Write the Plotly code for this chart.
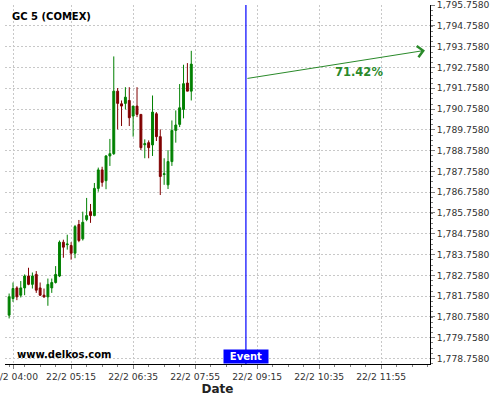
import plotly.graph_objects as go
import pandas as pd

# 5-minute candles, 22/2 03:55 .. 07:50
times = pd.date_range("2021-02-22 03:55", periods=48, freq="5min")
opens = [1780.84, 1781.64, 1782.15, 1781.80, 1782.15, 1782.72, 1782.32, 1782.80,
         1782.15, 1781.80, 1781.72, 1782.15, 1782.41, 1782.72, 1784.35, 1784.23,
         1784.19, 1783.82, 1785.20, 1784.51, 1785.44, 1785.82, 1785.63, 1786.94,
         1787.83, 1787.31, 1788.50, 1788.61, 1791.62, 1791.01, 1791.03, 1791.17,
         1790.42, 1790.90, 1790.50, 1789.04, 1789.14, 1789.03, 1790.53, 1789.43,
         1787.61, 1787.11, 1788.23, 1789.73, 1790.02, 1790.74, 1792.01, 1791.62]
highs = [1781.88, 1782.41, 1782.23, 1782.48, 1782.80, 1783.12, 1782.89, 1782.96,
         1782.41, 1782.12, 1782.60, 1782.60, 1783.20, 1784.43, 1784.47, 1784.71,
         1784.35, 1785.18, 1785.42, 1785.82, 1786.48, 1786.19, 1787.20, 1787.94,
         1787.98, 1788.54, 1789.32, 1793.29, 1791.77, 1791.17, 1791.81, 1791.81,
         1790.90, 1791.81, 1790.50, 1789.30, 1789.25, 1791.41, 1790.61, 1789.78,
         1788.39, 1788.78, 1790.21, 1790.69, 1791.96, 1792.89, 1792.97, 1793.56]
lows = [1780.68, 1781.48, 1781.56, 1781.69, 1781.80, 1782.28, 1782.12, 1781.91,
        1781.76, 1781.67, 1781.29, 1781.91, 1782.36, 1782.67, 1783.60, 1783.99,
        1783.51, 1783.58, 1784.35, 1784.43, 1785.36, 1785.28, 1785.60, 1786.78,
        1787.02, 1786.90, 1788.02, 1788.55, 1789.78, 1789.94, 1790.74, 1789.94,
        1789.43, 1790.37, 1788.78, 1788.39, 1788.39, 1788.50, 1789.22, 1786.62,
        1787.11, 1786.91, 1788.02, 1789.14, 1789.89, 1790.31, 1791.62, 1791.17]
closes = [1781.72, 1782.12, 1781.72, 1782.15, 1782.72, 1782.32, 1782.72, 1782.04,
          1781.80, 1781.72, 1782.32, 1782.41, 1782.80, 1784.35, 1784.11, 1784.26,
          1783.82, 1785.10, 1784.43, 1785.31, 1785.63, 1785.63, 1786.94, 1787.83,
          1787.23, 1788.50, 1788.61, 1791.62, 1791.03, 1790.90, 1791.33, 1790.34,
          1790.90, 1790.50, 1788.90, 1789.09, 1788.90, 1790.61, 1789.43, 1787.51,
          1787.64, 1788.23, 1789.73, 1789.99, 1790.82, 1791.98, 1791.62, 1792.92]

x_tick_vals = ["2021-02-22 04:00", "2021-02-22 05:15", "2021-02-22 06:35",
               "2021-02-22 07:55", "2021-02-22 09:15", "2021-02-22 10:35",
               "2021-02-22 11:55"]
x_tick_text = ["22/2 04:00", "22/2 05:15", "22/2 06:35", "22/2 07:55",
               "22/2 09:15", "22/2 10:35", "22/2 11:55"]
y_tick_vals = [1778.758, 1779.758, 1780.758, 1781.758, 1782.758, 1783.758,
               1784.758, 1785.758, 1786.758, 1787.758, 1788.758, 1789.758,
               1790.758, 1791.758, 1792.758, 1793.758, 1794.758, 1795.758]
y_tick_text = ["1,778.7580", "1,779.7580", "1,780.7580", "1,781.7580", "1,782.7580",
               "1,783.7580", "1,784.7580", "1,785.7580", "1,786.7580", "1,787.7580",
               "1,788.7580", "1,789.7580", "1,790.7580", "1,791.7580", "1,792.7580",
               "1,793.7580", "1,794.7580", "1,795.7580"]

event_time = "2021-02-22 09:00:30"
arrow_start = 1792.22
arrow_end_time = "2021-02-22 12:51:30"
arrow_end = 1793.58
prob_text = "71.42%"
prob_time = "2021-02-22 11:26:30"
prob_price = 1792.52

x_range = ["2021-02-22 03:49:40", "2021-02-22 12:58:00"]
y_range = [1778.488, 1795.765]

FONT = "DejaVu Sans"
GREEN = "#008000"
RED = "#800000"
ARROW = "#2a8a2a"
GRID = "#c8c8c8"
BLUE = "#0000ff"

fig = go.Figure()
fig.add_trace(go.Candlestick(
    x=times, open=opens, high=highs, low=lows, close=closes,
    increasing=dict(line=dict(color=GREEN, width=1), fillcolor=GREEN),
    decreasing=dict(line=dict(color=RED, width=1), fillcolor=RED),
    whiskerwidth=0, showlegend=False, hoverinfo="skip",
))

fig.add_shape(type="line", xref="x", yref="paper", x0=event_time, x1=event_time,
              y0=0, y1=1, layer="above", line=dict(color=BLUE, width=1.2))

fig.add_annotation(x=arrow_end_time, y=arrow_end, ax=event_time, ay=arrow_start,
                   xref="x", yref="y", axref="x", ayref="y", text="",
                   showarrow=True, arrowhead=4, arrowsize=2.2, arrowwidth=1,
                   arrowcolor=ARROW, standoff=0, startstandoff=0)
fig.add_annotation(x=prob_time, y=prob_price, xref="x", yref="y", text=prob_text,
                   showarrow=False, font=dict(family=FONT, size=11.5, color=ARROW, weight="bold"))

fig.add_annotation(x=event_time, y=0, xref="x", yref="paper", text="Event",
                   showarrow=False, yanchor="bottom", xanchor="center",
                   bgcolor=BLUE, width=44, height=13, borderpad=0,
                   font=dict(family=FONT, size=10, color="white", weight="bold"))

fig.add_annotation(x=0.0118, y=0.967, xref="paper", yref="paper", text="GC 5 (COMEX)",
                   showarrow=False, xanchor="left", yanchor="middle",
                   font=dict(family=FONT, size=10, color="black", weight="bold"))
fig.add_annotation(x=0.0235, y=0.0278, xref="paper", yref="paper", text="www.delkos.com",
                   showarrow=False, xanchor="left", yanchor="middle",
                   font=dict(family=FONT, size=10, color="black", weight="bold"))

fig.update_layout(
    width=500, height=400,
    margin=dict(l=5, r=70, t=5, b=36, autoexpand=False),
    paper_bgcolor="white", plot_bgcolor="white",
    font=dict(family=FONT, size=9.2, color="#333333"),
    boxgap=0.3,
    showlegend=False,
    xaxis=dict(
        type="date", range=x_range, rangeslider=dict(visible=False),
        tickvals=x_tick_vals, ticktext=x_tick_text, ticklabeloverflow="allow",
        automargin=False,
        showgrid=True, gridcolor=GRID, griddash="2px,2px", gridwidth=1,
        showline=True, linecolor="black", linewidth=1,
        ticks="outside", ticklen=4, tickcolor="#808080",
        minor=dict(ticks="outside", ticklen=2, tickcolor="#808080",
                   dtick=1200000, tick0="2021-02-22 05:15", showgrid=False),
        tickfont=dict(family=FONT, size=9.2, color="#333333"),
        title=dict(text="Date", font=dict(family=FONT, size=12, color="#222222", weight="bold"),
                   standoff=2),
        zeroline=False, fixedrange=True,
    ),
    yaxis=dict(
        side="right", range=y_range, tickvals=y_tick_vals, ticktext=y_tick_text,
        ticklabeloverflow="allow", automargin=False,
        showgrid=True, gridcolor=GRID, griddash="2px,2px", gridwidth=1,
        showline=True, linecolor="black", linewidth=1,
        ticks="outside", ticklen=4, tickcolor="#808080",
        minor=dict(ticks="outside", ticklen=2, tickcolor="#808080", dtick=0.25, showgrid=False),
        tickfont=dict(family=FONT, size=9.2, color="#333333"),
        zeroline=False, fixedrange=True,
    ),
)

fig.write_html("out.html", config={"displayModeBar": False},
               post_script="document.body.style.margin='0';document.body.style.overflow='hidden';")
